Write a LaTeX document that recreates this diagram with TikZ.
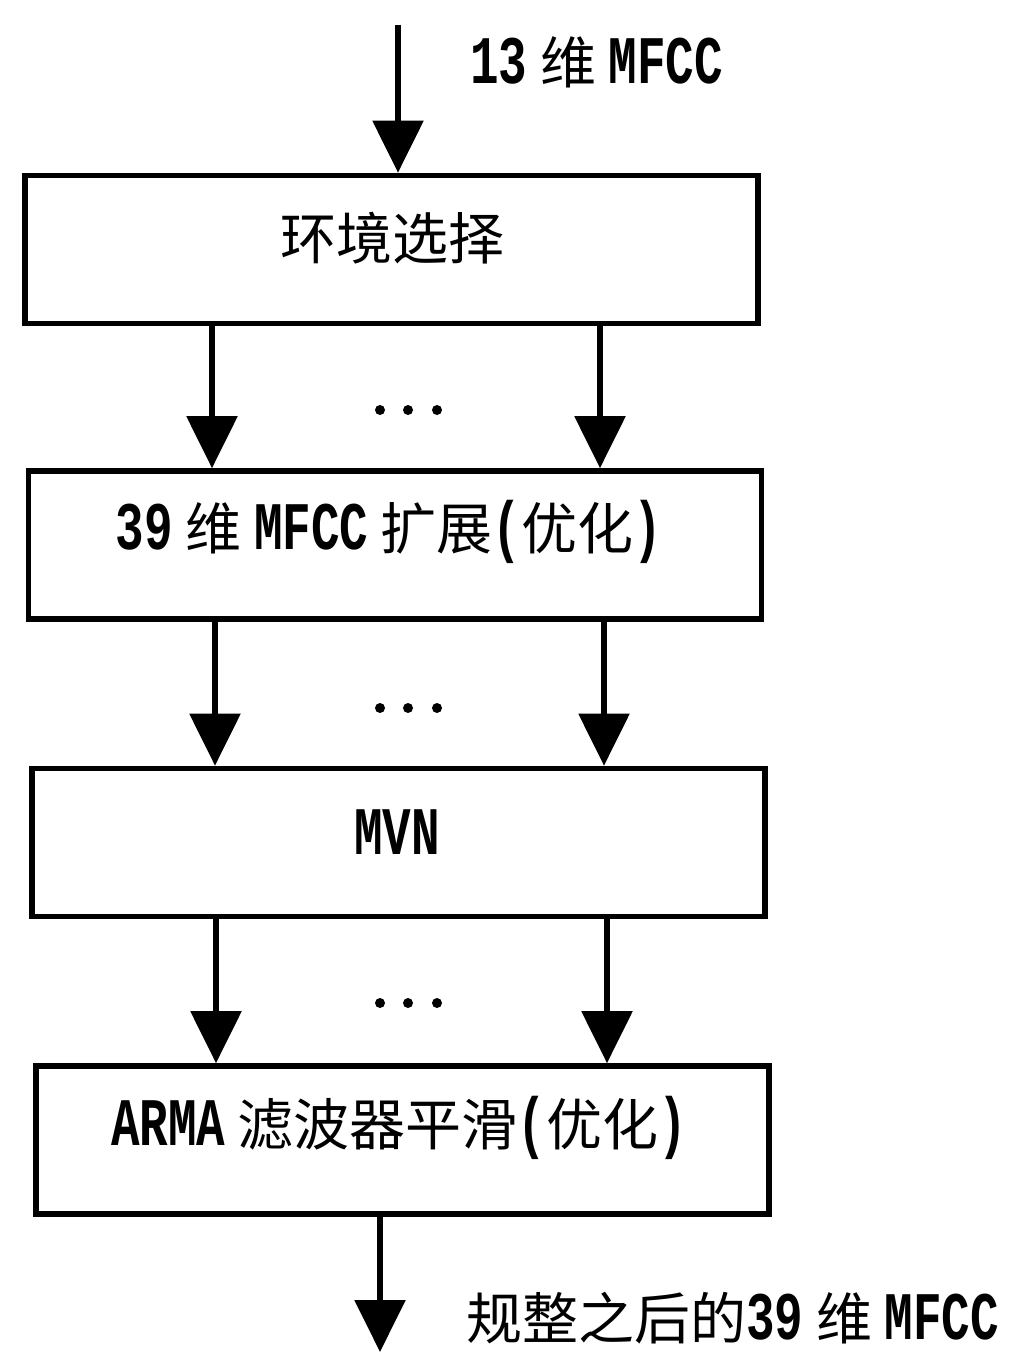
\documentclass[tikz,border=0pt]{standalone}
\usepackage{fontspec}
\setmainfont{Noto Sans CJK SC}
\newfontfamily\latfont[FakeStretch=0.7]{Liberation Mono}
\newcommand\lt[1]{{\latfont\bfseries\fontsize{34}{34}\selectfont #1}}
\usetikzlibrary{arrows.meta}
\tikzset{
  box/.style={draw, line width=2.8pt, inner sep=0pt, minimum width=366.5pt, minimum height=74pt},
  arr/.style={line width=2.8pt, -{Triangle[width=25pt,length=26pt]}},
  txt/.style={inner sep=0pt, font=\fontsize{28}{30}\selectfont},
  dotmark/.style={circle, fill, inner sep=0pt, minimum size=5pt}
}
\begin{document}
\begin{tikzpicture}[x=0.5pt,y=-0.5pt]
\useasboundingbox (0,0) rectangle (1009,1352);
% boxes
\node[box] (b1) at (391.5,249.5) {};
\node[box] (b2) at (395,545) {};
\node[box] (b3) at (398.5,842.5) {};
\node[box] (b4) at (402.5,1140) {};
% texts
\node[txt] (t1) at (392,238) {环境选择};
\node[txt] (t2) at (389,532) {\lt{39} 维 \lt{MFCC} 扩展\lt{(}优化\lt{)}};
\node[txt] (t3) at (397,832) {\lt{MVN}};
\node[txt] (t4) at (399,1128) {\lt{ARMA} 滤波器平滑\lt{(}优化\lt{)}};
\node[txt, anchor=west] (lin) at (470,62) {\lt{13} 维 \lt{MFCC}};
\node[txt, anchor=west] (lout) at (466,1318) {规整之后的\lt{39} 维 \lt{MFCC}};
% dots
\foreach \y/\n in {410/p,708/q,1003/r}{
  \node[dotmark] (dot\n1) at (380,\y) {};
  \node[dotmark] (dot\n2) at (408,\y) {};
  \node[dotmark] (dot\n3) at (437,\y) {};
}
% connectors
\coordinate (in) at (398,25);
\coordinate (out) at (380,1352);
\draw[arr] (in) -- (in |- b1.north);
\draw[arr] (212,0 |- b1.south) -- (212,0 |- b2.north);
\draw[arr] (600,0 |- b1.south) -- (600,0 |- b2.north);
\draw[arr] (215,0 |- b2.south) -- (215,0 |- b3.north);
\draw[arr] (604,0 |- b2.south) -- (604,0 |- b3.north);
\draw[arr] (216,0 |- b3.south) -- (216,0 |- b4.north);
\draw[arr] (607,0 |- b3.south) -- (607,0 |- b4.north);
\draw[arr] (out |- b4.south) -- (out);
\end{tikzpicture}
\end{document}
